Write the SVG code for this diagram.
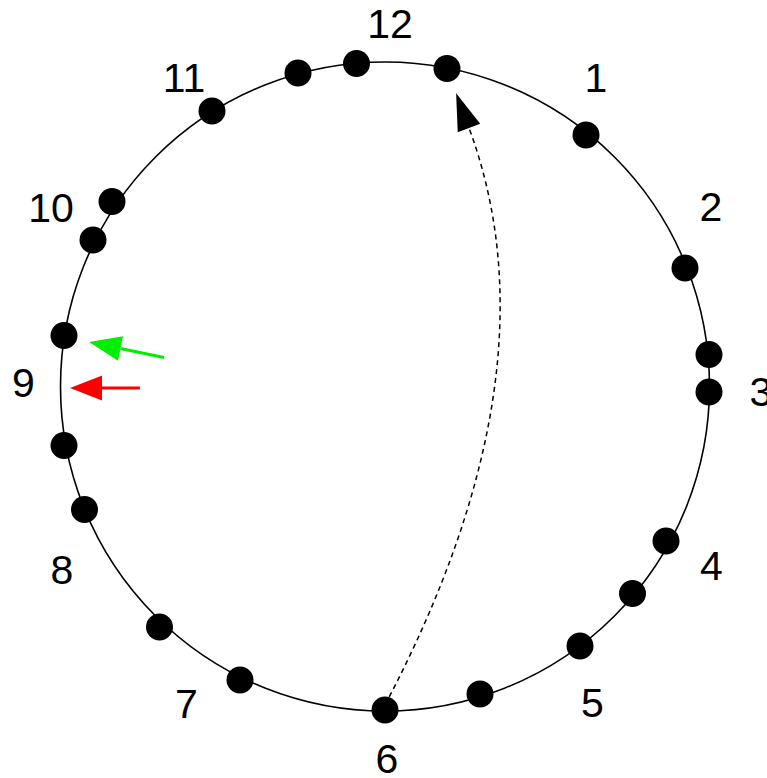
<svg xmlns="http://www.w3.org/2000/svg" width="767" height="778" viewBox="0 0 767 778">
<style>
.dot{fill:#000}
.lbl{font-family:"Liberation Sans",Arial,sans-serif;font-size:41px;fill:#000;text-anchor:middle}
.ring{fill:none;stroke:#000;stroke-width:1.6}
</style>
<defs>
<marker id="ahBlack" markerUnits="userSpaceOnUse" markerWidth="40" markerHeight="30" viewBox="0 -15 40 30" refX="0" refY="0" orient="auto" overflow="visible">
<path d="M0,-12 L37,0 L0,12 z" fill="#000"/>
</marker>
<marker id="ahGreen" markerUnits="userSpaceOnUse" markerWidth="34" markerHeight="28" viewBox="0 -14 34 28" refX="0" refY="0" orient="auto" overflow="visible">
<path d="M0,-12.5 L32,0 L0,12.5 z" fill="#00ee00"/>
</marker>
<marker id="ahRed" markerUnits="userSpaceOnUse" markerWidth="34" markerHeight="28" viewBox="0 -14 34 28" refX="0" refY="0" orient="auto" overflow="visible">
<path d="M0,-12.5 L32,0 L0,12.5 z" fill="#ff0000"/>
</marker>
</defs>
<rect width="767" height="778" fill="#fff"/>
<circle id="ring" class="ring" cx="385" cy="386.5" r="324.5"/>
<g id="connectors">
<path d="M385,705 Q560,373 469,128" fill="none" stroke="#000" stroke-width="1.5" stroke-dasharray="5,4" marker-end="url(#ahBlack)"/>
<line x1="164" y1="357.5" x2="120.5" y2="348.5" stroke="#00ee00" stroke-width="3" marker-end="url(#ahGreen)"/>
<line x1="140" y1="388" x2="102" y2="388" stroke="#ff0000" stroke-width="3" marker-end="url(#ahRed)"/>
</g>
<g id="dots">
<circle id="d1" class="dot" cx="356.5" cy="63.5" r="13.5"/>
<circle id="d2" class="dot" cx="447" cy="68.5" r="13.5"/>
<circle id="d3" class="dot" cx="298" cy="73" r="13.5"/>
<circle id="d4" class="dot" cx="212" cy="111" r="13.5"/>
<circle id="d5" class="dot" cx="112" cy="201.5" r="13.5"/>
<circle id="d6" class="dot" cx="93" cy="240" r="13.5"/>
<circle id="d7" class="dot" cx="64" cy="335.5" r="13.5"/>
<circle id="d8" class="dot" cx="64" cy="445.5" r="13.5"/>
<circle id="d9" class="dot" cx="84.5" cy="509.5" r="13.5"/>
<circle id="d10" class="dot" cx="159.5" cy="627" r="13.5"/>
<circle id="d11" class="dot" cx="240" cy="680" r="13.5"/>
<circle id="d12" class="dot" cx="385" cy="710" r="13.5"/>
<circle id="d13" class="dot" cx="480" cy="694" r="13.5"/>
<circle id="d14" class="dot" cx="580" cy="646" r="13.5"/>
<circle id="d15" class="dot" cx="632.5" cy="593.5" r="13.5"/>
<circle id="d16" class="dot" cx="666" cy="541" r="13.5"/>
<circle id="d17" class="dot" cx="709" cy="392" r="13.5"/>
<circle id="d18" class="dot" cx="709" cy="354.5" r="13.5"/>
<circle id="d19" class="dot" cx="685" cy="268" r="13.5"/>
<circle id="d20" class="dot" cx="586" cy="135" r="13.5"/>
</g>
<g id="labels">
<text class="lbl" x="390" y="38">12</text>
<text class="lbl" x="596" y="92">1</text>
<text class="lbl" x="711" y="221">2</text>
<text class="lbl" x="761" y="406">3</text>
<text class="lbl" x="711.5" y="580">4</text>
<text class="lbl" x="592.5" y="717">5</text>
<text class="lbl" x="387" y="773">6</text>
<text class="lbl" x="186.5" y="718">7</text>
<text class="lbl" x="62" y="584">8</text>
<text class="lbl" x="23.5" y="397">9</text>
<text class="lbl" x="51" y="222">10</text>
<text class="lbl" x="184" y="92">11</text>
</g>
</svg>
